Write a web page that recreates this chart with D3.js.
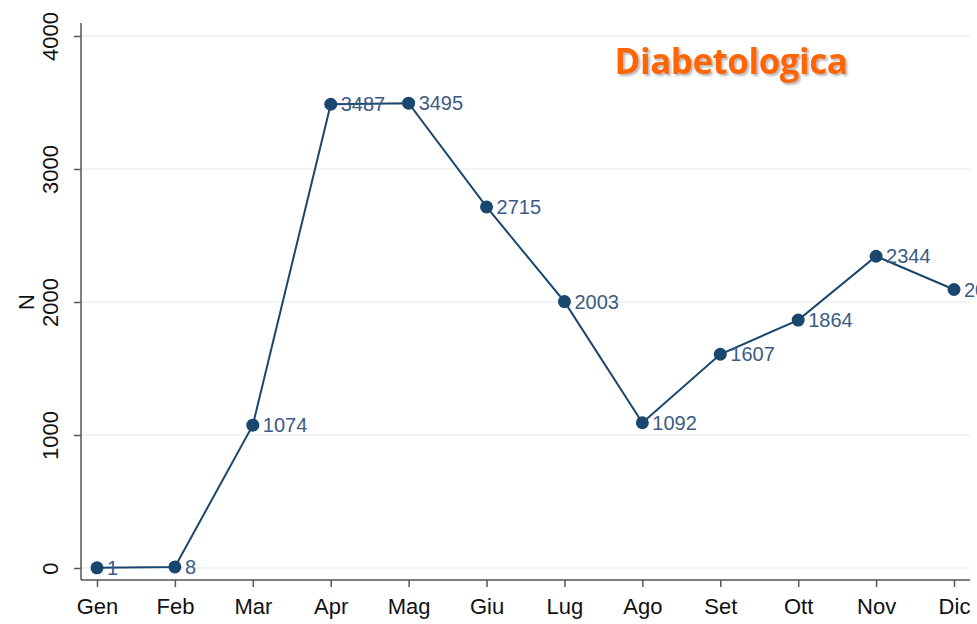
<!DOCTYPE html>
<html>
<head>
<meta charset="utf-8">
<script src="https://cdn.jsdelivr.net/npm/d3@7"></script>
<style>
  html, body { margin: 0; padding: 0; background: #fff; overflow: hidden; }
  svg { display: block; font-family: "Liberation Sans", Arial, sans-serif; }
  .grid line { stroke: #eaf0f0; stroke-width: 1.5; }
  .axis path, .axis line { stroke: #555; stroke-width: 1.5; }
  .axis text { fill: #111; font-size: 22px; }
  .ptlabel { fill: #3b5b84; font-size: 20px; }
</style>
</head>
<body>
<div id="chart"></div>
<script>
// months and monthly counts
var months = ['Gen', 'Feb', 'Mar', 'Apr', 'Mag', 'Giu', 'Lug', 'Ago', 'Set', 'Ott', 'Nov', 'Dic'];
var counts = [1, 8, 1074, 3487, 3495, 2715, 2003, 1092, 1607, 1864, 2344, 2094];
var yTicks = [0, 1000, 2000, 3000, 4000];
var title = 'Diabetologica';

var width = 977, height = 624;
var lineColor = '#1a476f';

var svg = d3.select('#chart').append('svg')
  .attr('width', width)
  .attr('height', height);

var x = d3.scalePoint().domain(months).range([97, 954]);
var y = d3.scaleLinear().domain([0, 4000]).range([568, 36]);

var axisX = 81, axisY = 580;

// horizontal grid lines
svg.append('g').attr('class', 'grid')
  .selectAll('line')
  .data(yTicks)
  .enter().append('line')
    .attr('x1', axisX)
    .attr('x2', 970)
    .attr('y1', function(d) { return y(d); })
    .attr('y2', function(d) { return y(d); });

// y axis
var gy = svg.append('g')
  .attr('class', 'axis')
  .attr('transform', 'translate(' + axisX + ',0)')
  .call(d3.axisLeft(y).tickValues(yTicks).tickFormat(d3.format('d'))
    .tickSize(7).tickPadding(0).tickSizeOuter(0));
gy.select('.domain').attr('d', 'M0,23V' + axisY);
gy.selectAll('.tick text')
  .attr('transform', 'rotate(-90)')
  .attr('x', 0)
  .attr('y', -23)
  .attr('dy', 0)
  .style('text-anchor', 'middle');

// x axis
var gx = svg.append('g')
  .attr('class', 'axis')
  .attr('transform', 'translate(0,' + axisY + ')')
  .call(d3.axisBottom(x).tickSize(7).tickPadding(8).tickSizeOuter(0));
gx.select('.domain').attr('d', 'M' + axisX + ',0H970');
gx.selectAll('.tick text').attr('dy', '0.85em');

// y axis title
svg.append('text')
  .attr('transform', 'translate(34,' + y(2000) + ') rotate(-90)')
  .style('text-anchor', 'middle')
  .style('font-size', '22px')
  .style('fill', '#111')
  .text('N');

// series line
var line = d3.line()
  .x(function(d, i) { return x(months[i]); })
  .y(function(d) { return y(d); });

svg.append('path')
  .datum(counts)
  .attr('d', line)
  .attr('fill', 'none')
  .attr('stroke', lineColor)
  .attr('stroke-width', 2);

svg.selectAll('.dot')
  .data(counts)
  .enter().append('circle')
    .attr('class', 'dot')
    .attr('cx', function(d, i) { return x(months[i]); })
    .attr('cy', function(d) { return y(d); })
    .attr('r', 6.5)
    .attr('fill', lineColor);

svg.selectAll('.ptlabel')
  .data(counts)
  .enter().append('text')
    .attr('class', 'ptlabel')
    .attr('x', function(d, i) { return x(months[i]) + 10; })
    .attr('y', function(d) { return y(d); })
    .attr('dy', '0.36em')
    .text(function(d) { return d; });

// title with soft shadow
var defs = svg.append('defs');
var f = defs.append('filter').attr('id', 'shadow')
  .attr('x', '-10%').attr('y', '-20%').attr('width', '120%').attr('height', '150%');
f.append('feDropShadow')
  .attr('dx', 2).attr('dy', 2).attr('stdDeviation', 1)
  .attr('flood-color', '#999').attr('flood-opacity', 0.7);

svg.append('text')
  .attr('x', 731)
  .attr('y', 74)
  .attr('filter', 'url(#shadow)')
  .style('text-anchor', 'middle')
  .style('font-family', '"Open Sans", sans-serif')
  .style('font-weight', 'bold')
  .style('font-size', '35px')
  .style('letter-spacing', '-0.5px')
  .style('fill', '#ff6600')
  .text(title);
</script>
</body>
</html>
